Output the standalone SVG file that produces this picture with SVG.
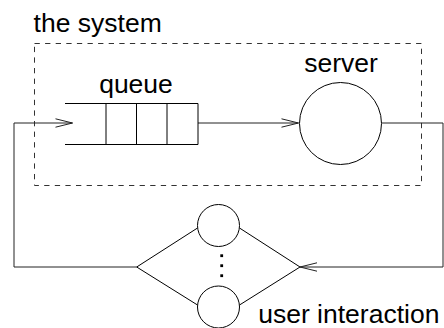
<svg xmlns="http://www.w3.org/2000/svg" width="444" height="328" viewBox="0 0 444 328">
<style>
text{font-family:"Liberation Sans",Arial,sans-serif;font-size:26.5px;fill:#000}
.s{fill:none;stroke:#000;stroke-width:1}
.c{fill:#fff;stroke:#000;stroke-width:1}
.conn{fill:none;stroke:#222;stroke-width:1}
</style>
<defs>
<marker id="arr" markerUnits="userSpaceOnUse" markerWidth="20" markerHeight="12" viewBox="-18 -6 20 12" refX="0" refY="0" orient="auto" overflow="visible">
<path d="M-17,-4.2 L0,0 L-17,4.2" fill="none" stroke="#222" stroke-width="1"/>
</marker>
</defs>
<g id="system">
<rect x="34.5" y="43.5" width="387" height="142" fill="none" stroke="#333" stroke-width="1" stroke-dasharray="5.3 5.3"/>
<text x="33.6" y="31.5">the system</text>
</g>
<g id="connectors">
<path class="conn" d="M198,123 H298.5" marker-end="url(#arr)"/>
<path class="conn" d="M382,123 H443 V267 H300" marker-end="url(#arr)"/>
<path class="conn" d="M136.7,267 H14 V123 H72.5" marker-end="url(#arr)"/>
</g>
<g id="queue">
<path class="s" d="M65,103.5 H198 M65,144.5 H198"/>
<path class="s" d="M106,103.5 V144.5 M136.5,103.5 V144.5 M167,103.5 V144.5 M198,103.5 V144.5"/>
<text x="136" y="92.5" text-anchor="middle">queue</text>
</g>
<g id="server">
<circle class="c" cx="340.5" cy="123.5" r="41"/>
<text x="341" y="71.7" text-anchor="middle">server</text>
</g>
<g id="user">
<path class="s" d="M136.7,267 L197.5,228 M239.5,228 L300,267 M136.7,267 L197.5,305 M239.5,305 L300,267"/>
<circle class="c" cx="218.5" cy="225.5" r="21"/>
<circle class="c" cx="218.5" cy="307" r="21"/>
<rect x="220.3" y="254.3" width="2.8" height="2.8" fill="#000"/>
<rect x="220.3" y="264.3" width="2.8" height="2.8" fill="#000"/>
<rect x="220.3" y="274.3" width="2.8" height="2.8" fill="#000"/>
<text x="258.2" y="323.3">user interaction</text>
</g>
</svg>
